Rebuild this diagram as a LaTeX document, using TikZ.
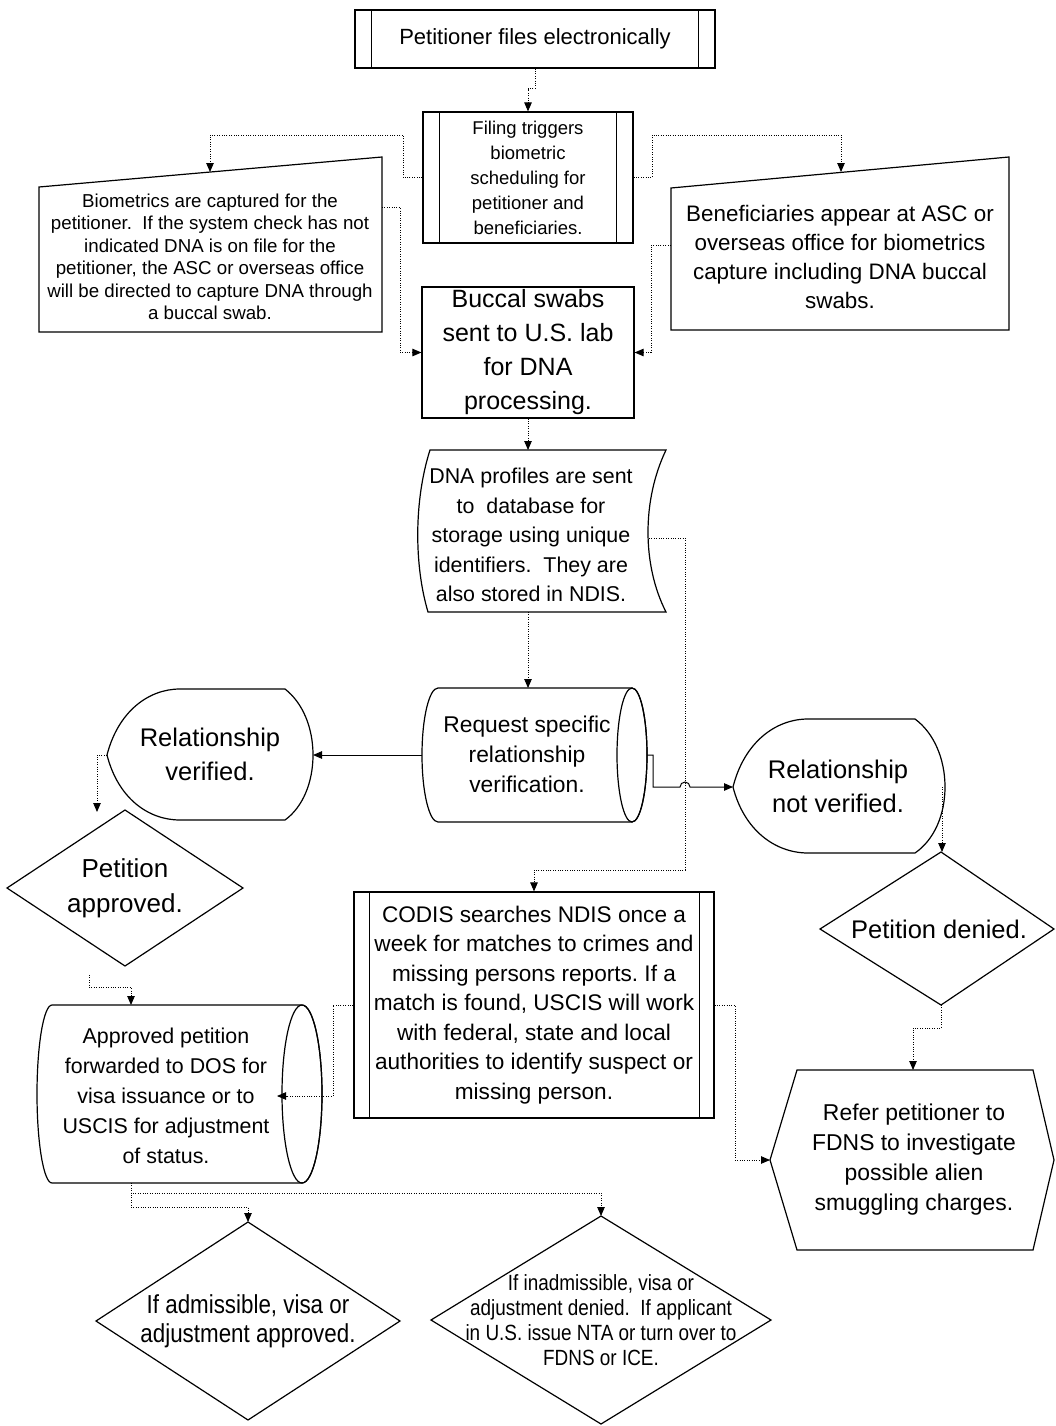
\documentclass[tikz,border=0pt]{standalone}
\usepackage{fontspec}
\setmainfont{Liberation Sans}
\newfontfamily\narrowsans[FakeStretch=0.86]{Liberation Sans}
\usetikzlibrary{arrows.meta,calc}
\newcommand{\fs}[2]{\fontsize{#1}{#2}\selectfont}
\frenchspacing
\begin{document}
\begin{tikzpicture}[x=1pt,y=-1pt,
  shp/.style={draw=black,line width=1.2pt,fill=white},
  rbox/.style={shp,inner sep=0pt,align=center},
  lbl/.style={inner sep=0pt,align=center},
  dconn/.style={line width=0.9pt,dash pattern=on 1pt off 1.4pt,-{Triangle[length=9pt,width=7.5pt]}},
  sconn/.style={line width=1pt,-{Triangle[length=9pt,width=7.5pt]}},
  innerline/.style={line width=1.2pt}
]
\useasboundingbox (0,0) rectangle (1055,1426);
\fill[white] (0,0) rectangle (1055,1426);

% ---------- shapes and labels ----------
\node[rbox,minimum width=360,minimum height=58,font=\fs{22}{26}] (pfe) at (535,39) {Petitioner files electronically};
\draw[innerline] ($(pfe.north west)+(17,0)$) -- ($(pfe.south west)+(17,0)$)
                 ($(pfe.north east)+(-17,0)$) -- ($(pfe.south east)+(-17,0)$);

\node[rbox,minimum width=210,minimum height=131,font=\fs{18.5}{25}] (trig) at (528,177.5) {Filing triggers\\biometric\\scheduling for\\petitioner and\\beneficiaries.};
\draw[innerline] ($(trig.north west)+(17,0)$) -- ($(trig.south west)+(17,0)$)
                 ($(trig.north east)+(-17,0)$) -- ($(trig.south east)+(-17,0)$);

\draw[shp] (39,187) -- (382,157) -- (382,332) -- (39,332) -- cycle;
\node[lbl,font=\fs{18.7}{22.5}] (bio) at (210,257) {Biometrics are captured for the\\petitioner.\ \ If the system check has not\\indicated DNA is on file for the\\petitioner, the ASC or overseas office\\will be directed to capture DNA through\\a buccal swab.};
\coordinate (bio-top) at (210,172);
\coordinate (bio-right) at (382,207);

\draw[shp] (671,188) -- (1009,157) -- (1009,330) -- (671,330) -- cycle;
\node[lbl,font=\fs{22.4}{29}] (ben) at (840,257) {Beneficiaries appear at ASC or\\overseas office for biometrics\\capture including DNA buccal\\swabs.};
\coordinate (ben-top) at (841,172);
\coordinate (ben-left) at (671,245);

\node[rbox,minimum width=212,minimum height=131,font=\fs{25}{34}] (buc) at (528,352.5) {Buccal swabs\\sent to U.S. lab\\for DNA\\processing.};

\draw[shp] (430,450) -- (666,450) .. controls (642,500) and (642,565) .. (666,612) -- (428,612) .. controls (414,565) and (414,500) .. (430,450) -- cycle;
\node[lbl,font=\fs{21.4}{29.5}] (dna) at (531,535) {DNA profiles are sent\\to\ \ database for\\storage using unique\\identifiers.\ \ They are\\also stored in NDIS.};
\coordinate (dna-top) at (528,450);
\coordinate (dna-bot) at (528,612);
\coordinate (dna-right) at (649,538);

\draw[shp] (438,688) -- (632,688) arc[start angle=270,end angle=450,x radius=15,y radius=67] -- (438,822) arc[start angle=90,end angle=270,x radius=16,y radius=67] -- cycle;
\draw[innerline] (632,755) ellipse[x radius=15,y radius=67];
\node[lbl,font=\fs{22.8}{30}] (req) at (527,754) {Request specific\\relationship\\verification.};
\coordinate (req-top) at (528,688);
\coordinate (req-left) at (422,755);
\coordinate (req-right) at (647,755);

\draw[shp] (107,755) .. controls (118,712) and (148,689) .. (180,689) -- (285,689) .. controls (303,703) and (313,728) .. (313,755) .. controls (313,782) and (303,807) .. (285,820) -- (180,820) .. controls (148,820) and (118,798) .. (107,755) -- cycle;
\node[lbl,font=\fs{25.5}{34}] (rv) at (210,754) {Relationship\\verified.};
\coordinate (rv-right) at (313,755);
\coordinate (rv-left) at (107,755);

\draw[shp] (733,787) .. controls (744,743) and (775,719) .. (808,719) -- (915,719) .. controls (934,733) and (945,759) .. (945,787) .. controls (945,815) and (934,840) .. (915,853) -- (808,853) .. controls (775,853) and (744,830) .. (733,787) -- cycle;
\node[lbl,font=\fs{25.5}{34}] (rnv) at (838,786) {Relationship\\not verified.};
\coordinate (rnv-left) at (733,787);
\coordinate (rnv-out) at (942,787);

\draw[shp] (125,810) -- (243,888) -- (125,966) -- (7,888) -- cycle;
\node[lbl,font=\fs{26}{35}] (pa) at (125,888) {Petition\\approved.};
\coordinate (pa-in) at (97,812);
\coordinate (pa-out) at (89,975);

\draw[shp] (941,852) -- (1054,929) -- (941,1005) -- (820,929) -- cycle;
\node[lbl,font=\fs{25.5}{30}] (pd) at (939,929) {Petition denied.};
\coordinate (pd-top) at (942,852);
\coordinate (pd-bot) at (941,1005);

\node[rbox,minimum width=360,minimum height=226,font=\fs{22.6}{29.5}] (codis) at (534,1005) {CODIS searches NDIS once a\\week for matches to crimes and\\missing persons reports. If a\\match is found, USCIS will work\\with federal, state and local\\authorities to identify suspect or\\missing person.};
\draw[innerline] ($(codis.north west)+(16,0)$) -- ($(codis.south west)+(16,0)$)
                 ($(codis.north east)+(-15,0)$) -- ($(codis.south east)+(-15,0)$);

\draw[shp] (52,1005) -- (302,1005) arc[start angle=270,end angle=450,x radius=20,y radius=89] -- (52,1183) arc[start angle=90,end angle=270,x radius=15,y radius=89] -- cycle;
\draw[innerline] (302,1094) ellipse[x radius=20,y radius=89];
\node[lbl,font=\fs{21.4}{30}] (ap) at (166,1096) {Approved petition\\forwarded to DOS for\\visa issuance or to\\USCIS for adjustment\\of status.};
\coordinate (ap-top) at (131,1005);
\coordinate (ap-bot) at (131,1183);
\coordinate (ap-right) at (277,1096);

\draw[shp] (770,1160) -- (797,1070) -- (1033,1070) -- (1054,1160) -- (1033,1250) -- (797,1250) -- cycle;
\node[lbl,font=\fs{22.9}{30}] (ref) at (914,1160) {Refer petitioner to\\FDNS to investigate\\possible alien\\smuggling charges.};
\coordinate (ref-top) at (913,1070);
\coordinate (ref-left) at (770,1160);

\draw[shp] (248,1222) -- (400,1321) -- (248,1420) -- (96,1321) -- cycle;
\node[lbl,font=\narrowsans\fs{26}{29}] (adm) at (248,1321) {If admissible, visa or\\adjustment approved.};
\coordinate (adm-top) at (248,1222);

\draw[shp] (601,1216) -- (771,1320) -- (601,1424) -- (431,1320) -- cycle;
\node[lbl,font=\narrowsans\fs{22}{25}] (inadm) at (601,1320) {If inadmissible, visa or\\adjustment denied.\ \ If applicant\\in U.S. issue NTA or turn over to\\FDNS or ICE.};
\coordinate (inadm-top) at (601,1216);

% ---------- connectors ----------
\draw[dconn] (pfe.south) -- ++(0,20) -| (trig.north);
\draw[dconn] (trig.west) -- (403,177.5) -- (403,135) -- (210,135) -- (bio-top);
\draw[dconn] (trig.east) -- (652,177.5) -- (652,135) -- (841,135) -- (ben-top);
\draw[dconn] (bio-right) -- (400,207) -- (400,352.5) -- (buc.west);
\draw[dconn] (ben-left) -- (651,245) -- (651,352.5) -- (buc.east);
\draw[dconn] (buc.south) -- (dna-top);
\draw[dconn] (dna-bot) -- (req-top);
\draw[dconn] (dna-right) -- (685,538) -- (685,870) -- (534,870) -- (codis.north);
\draw[sconn] (req-left) -- (rv-right);
\draw[sconn] (req-right) -- (653,755) -- (653,787) -- (680,787) arc[start angle=180,end angle=360,radius=5] -- (rnv-left);
\draw[dconn] (rv-left) -- (97,755) -- (pa-in);
\draw[dconn] (pa-out) -- (89,987) -- (131,987) -- (ap-top);
\draw[dconn] (codis.west) -- (333,1005) -- (333,1096) -- (ap-right);
\draw[dconn] (rnv-out) -- (pd-top);
\draw[dconn] (pd-bot) -- (941,1028) -- (913,1028) -- (ref-top);
\draw[dconn] (codis.east) -- (735,1005) -- (735,1160) -- (ref-left);
\draw[dconn] (ap-bot) -- (131,1193) -- (601,1193) -- (inadm-top);
\draw[dconn] (ap-bot) -- (131,1207) -- (248,1207) -- (adm-top);
\end{tikzpicture}
\end{document}
